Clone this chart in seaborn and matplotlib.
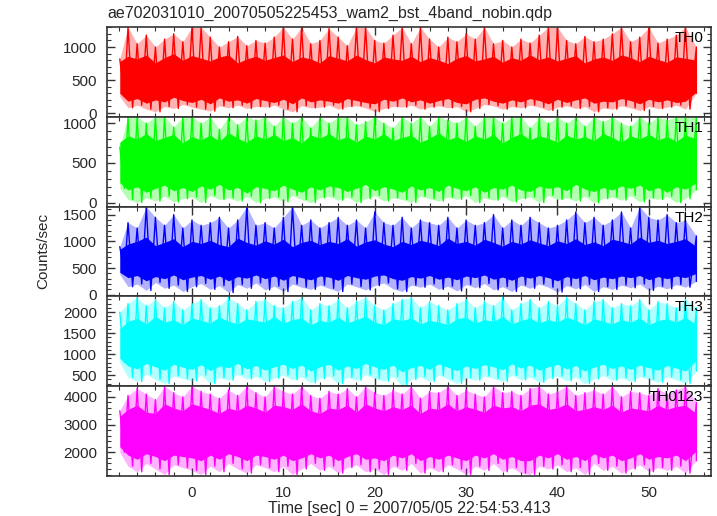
import numpy as np
import pandas as pd
import matplotlib
matplotlib.use("Agg")
import matplotlib.pyplot as plt
from matplotlib.ticker import MultipleLocator
import seaborn as sns

# time bins (sec), one per second across the burst file
time_s = [-7.9, -7, -6, -5, -4, -3, -2, -1,
          0, 1, 2, 3, 4, 5, 6, 7,
          8, 9, 10, 11, 12, 13, 14, 15,
          16, 17, 18, 19, 20, 21, 22, 23,
          24, 25, 26, 27, 28, 29, 30, 31,
          32, 33, 34, 35, 36, 37, 38, 39,
          40, 41, 42, 43, 44, 45, 46, 47,
          48, 49, 50, 51, 52, 53, 54, 55.2]

bands = ["TH0", "TH1", "TH2", "TH3", "TH0123"]
colors = ["#ff0000", "#00ff00", "#0000ff", "#00ffff", "#ff00ff"]

# spike maxima / minima per 1-s bin, counts/sec
th0_hi = [820, 1300, 1050, 1180, 1000, 1120, 1200, 1080,
          1300, 1300, 1150, 1000, 1080, 1160, 1020, 1100,
          1060, 1150, 1300, 1120, 1300, 1050, 1100, 1280,
          1150, 1020, 1300, 1300, 1100, 1060, 1180, 1300,
          1050, 1300, 1120, 1000, 1150, 1080, 1200, 1120,
          1300, 1050, 1100, 1000, 1120, 1060, 1180, 1300,
          1300, 1100, 1050, 1160, 1080, 1120, 1200, 1300,
          1080, 1150, 1300, 1060, 1120, 1180, 1300, 1000]
th0_lo = [250, 80, 120, 60, 20, 100, 70, 130,
          90, 60, 30, 110, 80, 120, 70, 100,
          90, 120, 60, 20, 110, 80, 90, 120,
          60, 100, 110, 80, 20, 70, 100, 90,
          120, 60, 90, 110, 80, 100, 20, 70,
          130, 110, 60, 100, 80, 120, 90, 40,
          90, 110, 70, 100, 20, 80, 60, 110,
          80, 40, 100, 70, 90, 120, 60, 300]

th1_hi = [700, 1080, 1080, 1000, 1080, 1080, 950, 1080,
          1080, 1000, 1080, 920, 1080, 980, 1080, 1040,
          1080, 960, 1080, 1000, 1080, 940, 1080, 1000,
          1080, 1080, 980, 1020, 1080, 1000, 940, 1080,
          1000, 1080, 960, 1080, 1040, 1000, 1080, 960,
          1080, 1080, 1000, 1080, 1080, 940, 1080, 1000,
          1080, 1000, 1080, 960, 1080, 1020, 1080, 1000,
          960, 1080, 1000, 1080, 1040, 1080, 1080, 1080]
th1_lo = [180, 40, 0, 60, 20, 80, 10, 50,
          70, 0, 90, 40, 60, 20, 80, 0,
          50, 70, 10, 90, 40, 0, 60, 80,
          30, 70, 0, 50, 90, 20, 60, 40,
          0, 80, 50, 20, 70, 40, 90, 0,
          60, 30, 80, 10, 50, 70, 0, 90,
          40, 60, 20, 80, 0, 50, 70, 30,
          90, 10, 60, 40, 80, 0, 50, 160]

th2_hi = [900, 1350, 1250, 1650, 1450, 1300, 1500, 1250,
          1400, 1300, 1350, 1450, 1250, 1400, 1650, 1300,
          1350, 1250, 1450, 1650, 1300, 1400, 1250, 1350,
          1450, 1300, 1400, 1250, 1550, 1350, 1300, 1450,
          1250, 1400, 1350, 1300, 1450, 1250, 1400, 1300,
          1350, 1500, 1250, 1400, 1300, 1450, 1350, 1250,
          1300, 1400, 1550, 1350, 1450, 1300, 1400, 1550,
          1250, 1650, 1450, 1400, 1500, 1350, 1400, 1100]
th2_lo = [380, 150, 200, 80, 230, 120, 180, 60,
          150, 210, 100, 170, 40, 190, 120, 220,
          90, 160, 60, 200, 140, 100, 180, 120,
          60, 200, 150, 90, 170, 220, 110, 60,
          180, 140, 200, 100, 160, 70, 190, 130,
          210, 90, 150, 60, 180, 120, 200, 140,
          50, 170, 110, 190, 60, 150, 100, 180,
          130, 200, 80, 160, 110, 190, 140, 250]

th3_hi = [2000, 2200, 2350, 2150, 2300, 2100, 2250, 2050,
          2200, 2300, 2100, 2150, 2350, 2200, 2050, 2250,
          2300, 2150, 2100, 2250, 2350, 2050, 2200, 2150,
          2300, 2100, 2250, 2350, 2150, 2050, 2200, 2300,
          2350, 2100, 2250, 2150, 2050, 2200, 2300, 2100,
          2250, 2150, 2350, 2050, 2200, 2300, 2100, 2250,
          2150, 2350, 2200, 2050, 2250, 2300, 2100, 2200,
          2150, 2300, 2050, 2250, 2200, 2100, 2300, 2100]
th3_lo = [800, 450, 350, 520, 400, 300, 480, 420,
          360, 500, 300, 440, 380, 520, 410, 470,
          350, 430, 500, 390, 460, 320, 420, 480,
          300, 450, 380, 510, 420, 360, 470, 250,
          400, 460, 350, 500, 410, 300, 440, 380,
          480, 420, 350, 500, 390, 460, 330, 420,
          480, 370, 450, 300, 410, 490, 380, 440,
          350, 470, 400, 330, 460, 390, 300, 600]

th0123_hi = [3500, 4050, 4300, 4100, 3900, 4385, 4150, 4000,
             4385, 4200, 4100, 3950, 4250, 4050, 4385, 4150,
             4000, 4385, 4200, 4100, 4385, 4050, 3950, 4200,
             4100, 4300, 4000, 4385, 4150, 4050, 4250, 4100,
             4385, 3950, 4200, 4150, 4385, 4050, 4250, 4100,
             4000, 4385, 4150, 4200, 4050, 4300, 4385, 4100,
             4200, 4385, 4050, 4150, 4250, 4100, 4385, 4000,
             4200, 4150, 4050, 4300, 4100, 4250, 4385, 3800]
th0123_lo = [2000, 1500, 1300, 1600, 1400, 1200, 1550, 1450,
             1350, 1200, 1500, 1300, 1600, 1400, 1250, 1550,
             1450, 1300, 1500, 1200, 1400, 1600, 1350, 1500,
             1250, 1450, 1550, 1300, 1400, 1200, 1500, 1350,
             1600, 1250, 1450, 1300, 1550, 1400, 1200, 1500,
             1350, 1600, 1300, 1450, 1250, 1200, 1500, 1400,
             1550, 1300, 1450, 1200, 1600, 1350, 1500, 1250,
             1400, 1550, 1300, 1450, 1350, 1500, 1250, 1700]

# edges of the dense part of each curve per 1-s bin
th0_up = [780, 860, 820, 880, 760, 840, 900, 800,
          870, 830, 790, 850, 880, 760, 820, 860,
          800, 840, 880, 780, 850, 820, 760, 870,
          830, 790, 880, 810, 760, 850, 820, 800,
          860, 780, 840, 800, 750, 830, 870, 790,
          820, 860, 770, 840, 800, 880, 810, 850,
          790, 830, 870, 760, 820, 850, 800, 880,
          840, 780, 860, 810, 770, 850, 830, 800]
th0_dn = [300, 180, 220, 150, 200, 170, 240, 190,
          160, 210, 140, 230, 180, 200, 150, 220,
          190, 160, 210, 140, 230, 170, 200, 180,
          150, 220, 190, 160, 140, 210, 180, 230,
          170, 200, 150, 190, 220, 160, 140, 210,
          230, 180, 150, 200, 170, 220, 190, 140,
          210, 160, 200, 230, 150, 180, 170, 220,
          190, 140, 210, 170, 200, 160, 180, 320]

th1_up = [760, 840, 800, 870, 780, 820, 860, 750,
          830, 790, 850, 770, 880, 810, 760, 840,
          800, 860, 780, 820, 750, 850, 810, 870,
          790, 830, 760, 840, 800, 870, 780, 820,
          850, 760, 810, 880, 790, 830, 770, 840,
          800, 860, 750, 820, 870, 790, 840, 810,
          760, 850, 800, 830, 780, 870, 820, 760,
          840, 800, 860, 790, 830, 770, 850, 800]
th1_dn = [250, 160, 200, 130, 180, 220, 150, 190,
          140, 210, 170, 230, 160, 190, 120, 200,
          180, 150, 220, 170, 130, 200, 160, 210,
          190, 140, 180, 230, 150, 200, 170, 130,
          210, 160, 190, 140, 220, 180, 150, 200,
          130, 190, 170, 220, 160, 140, 210, 180,
          200, 150, 230, 170, 140, 190, 160, 210,
          180, 220, 150, 190, 130, 200, 170, 250]

th2_up = [850, 950, 1000, 1080, 920, 980, 1050, 900,
          1000, 960, 1020, 940, 900, 1060, 980, 930,
          1010, 950, 1040, 900, 980, 1020, 940, 1000,
          960, 1050, 910, 990, 1030, 950, 900, 1000,
          940, 1020, 980, 920, 1060, 960, 1000, 930,
          1040, 980, 910, 1000, 950, 1030, 970, 920,
          1010, 960, 1050, 940, 990, 920, 1040, 1000,
          950, 1080, 980, 1020, 960, 1000, 1050, 900]
th2_dn = [420, 320, 360, 260, 340, 300, 370, 280,
          330, 360, 290, 350, 260, 340, 310, 370,
          300, 350, 270, 360, 320, 280, 350, 330,
          270, 360, 320, 290, 350, 370, 300, 270,
          340, 310, 360, 290, 330, 280, 350, 320,
          370, 290, 330, 270, 350, 310, 360, 320,
          260, 340, 300, 360, 280, 330, 300, 350,
          320, 360, 280, 340, 300, 350, 320, 400]

th3_up = [1600, 1780, 1850, 1720, 1900, 1760, 1820, 1700,
          1860, 1800, 1740, 1880, 1780, 1720, 1840, 1800,
          1760, 1900, 1740, 1820, 1860, 1700, 1800, 1760,
          1880, 1740, 1820, 1900, 1760, 1700, 1840, 1800,
          1860, 1720, 1800, 1760, 1700, 1840, 1880, 1740,
          1820, 1780, 1900, 1720, 1800, 1860, 1740, 1820,
          1760, 1880, 1800, 1700, 1840, 1780, 1720, 1820,
          1760, 1860, 1700, 1800, 1840, 1760, 1880, 1700]
th3_dn = [900, 720, 650, 780, 700, 620, 760, 690,
          640, 750, 610, 720, 680, 780, 650, 730,
          620, 700, 760, 660, 740, 600, 700, 760,
          620, 720, 660, 780, 700, 640, 740, 580,
          680, 730, 640, 770, 690, 610, 720, 660,
          750, 700, 630, 770, 670, 740, 620, 700,
          760, 650, 730, 600, 690, 760, 660, 720,
          640, 740, 680, 620, 730, 670, 600, 850]

th0123_up = [3300, 3550, 3700, 3450, 3400, 3750, 3600, 3500,
             3750, 3650, 3550, 3400, 3600, 3500, 3700, 3600,
             3450, 3700, 3650, 3550, 3750, 3500, 3400, 3600,
             3550, 3700, 3450, 3750, 3600, 3500, 3650, 3550,
             3700, 3400, 3600, 3550, 3750, 3500, 3650, 3550,
             3450, 3700, 3600, 3650, 3500, 3700, 3750, 3550,
             3600, 3750, 3500, 3550, 3650, 3550, 3700, 3450,
             3600, 3550, 3500, 3700, 3550, 3650, 3700, 3400]
th0123_dn = [2200, 1900, 1750, 1950, 1850, 1700, 1900, 1850,
             1800, 1700, 1900, 1750, 1950, 1850, 1700, 1900,
             1850, 1750, 1900, 1700, 1800, 1950, 1800, 1900,
             1700, 1850, 1950, 1750, 1800, 1700, 1900, 1800,
             1950, 1700, 1850, 1750, 1900, 1800, 1700, 1900,
             1800, 1950, 1750, 1850, 1700, 1700, 1900, 1800,
             1950, 1750, 1850, 1700, 1950, 1800, 1900, 1700,
             1800, 1950, 1750, 1850, 1800, 1900, 1700, 2050]

hi_all = [th0_hi, th1_hi, th2_hi, th3_hi, th0123_hi]
lo_all = [th0_lo, th1_lo, th2_lo, th3_lo, th0123_lo]
up_all = [th0_up, th1_up, th2_up, th3_up, th0123_up]
dn_all = [th0_dn, th1_dn, th2_dn, th3_dn, th0123_dn]

ylims = [(-56, 1303), (-50, 1080), (-32, 1651), (239, 2372), (1147, 4385)]
ymajor = [500, 500, 500, 500, 1000]
yminor = [100, 100, 100, 100, 200]

sns.set_theme(style="ticks")
plt.rcParams["font.family"] = ["Liberation Sans", "DejaVu Sans"]

fig = plt.figure(figsize=(7.17, 5.16), dpi=100)
left, right = 107 / 717, 711 / 717
top, bottom = 1 - 27 / 516, 1 - 476 / 516
h = (top - bottom) / 5

for i in range(5):
    ax = fig.add_axes([left, top - (i + 1) * h, right - left, h])
    c = colors[i]
    t = np.array(time_s)
    # needles: max then min of each bin, half a bin apart
    tz = np.column_stack([t, np.minimum(t + 0.5, t[-1])]).ravel()
    yz = np.column_stack([hi_all[i], lo_all[i]]).ravel()
    zig = pd.DataFrame({"time": tz, "rate": yz})
    ax.fill_between(t, lo_all[i], hi_all[i], color=c, alpha=0.3, lw=0)
    sns.lineplot(data=zig, x="time", y="rate", sort=False, estimator=None,
                 color=c, lw=1.0, ax=ax)
    ax.fill_between(t, dn_all[i], up_all[i], color=c, lw=0, zorder=3)

    ax.set_xlim(-9.3, 56.8)
    ax.set_ylim(*ylims[i])
    ax.xaxis.set_major_locator(MultipleLocator(10))
    ax.xaxis.set_minor_locator(MultipleLocator(2))
    ax.yaxis.set_major_locator(MultipleLocator(ymajor[i]))
    ax.yaxis.set_minor_locator(MultipleLocator(yminor[i]))
    ax.tick_params(which="both", direction="in", top=True, right=True,
                   color="#333333", labelsize=11, pad=7)
    ax.tick_params(which="major", length=6, width=1)
    ax.tick_params(which="minor", length=3, width=0.8)
    for s in ax.spines.values():
        s.set_color("#333333")
        s.set_linewidth(1.2)
        s.set_zorder(5)
    ax.set_xlabel("")
    ax.set_ylabel("")
    if i < 4:
        ax.set_xticklabels([])
    ax.text(0.987, 0.955, bands[i], transform=ax.transAxes, ha="right", va="top",
            fontsize=11, color="black", zorder=6)

fig.text(left, 1 - 13 / 516, "ae702031010_20070505225453_wam2_bst_4band_nobin.qdp",
         ha="left", va="center", fontsize=11.5)
fig.text(43 / 717, 1 - 251 / 516, "Counts/sec", rotation=90, ha="center", va="center",
         fontsize=11)
fig.text((left + right) / 2, 1 - 508 / 516, "Time [sec] 0 = 2007/05/05 22:54:53.413",
         ha="center", va="center", fontsize=11.5)

fig.savefig("out.png", dpi=100)
